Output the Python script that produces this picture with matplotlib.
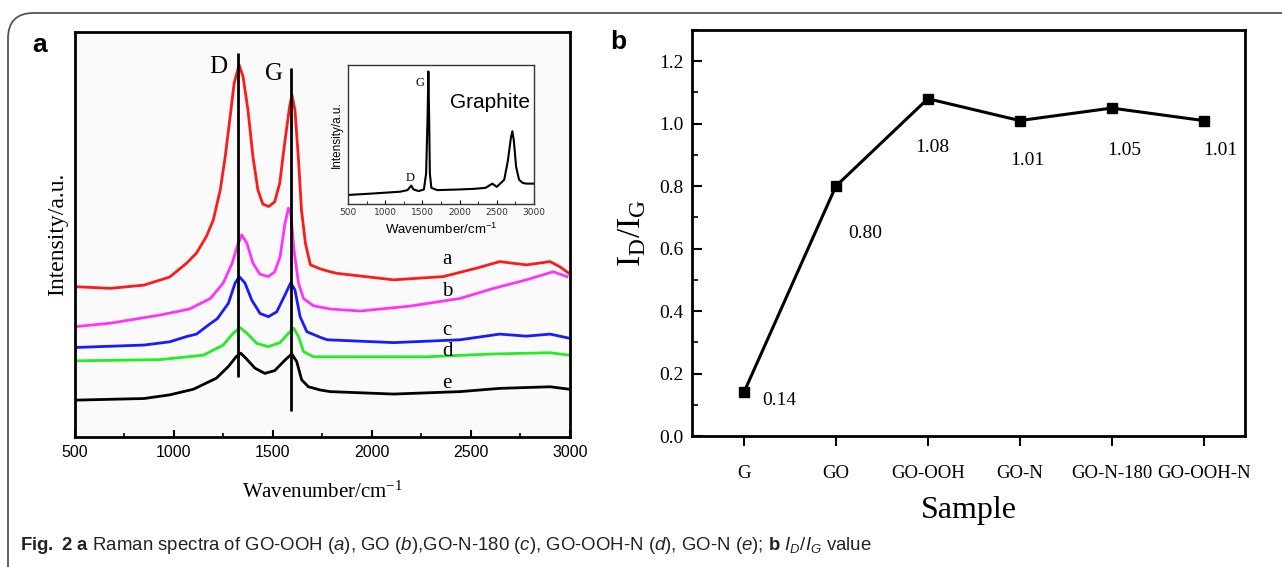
import matplotlib
matplotlib.use("Agg")
import matplotlib.pyplot as plt
import numpy as np
from matplotlib.patches import FancyBboxPatch
from matplotlib.ticker import MultipleLocator

plt.rcParams['mathtext.fontset'] = 'custom'
plt.rcParams['mathtext.rm'] = 'Liberation Serif'
plt.rcParams['mathtext.sf'] = 'Liberation Sans'
plt.rcParams['mathtext.it'] = 'Liberation Sans:italic'
plt.rcParams['mathtext.bf'] = 'Liberation Sans:bold'

# ---- panel a: Raman spectra (arbitrary units) ----
wn_a = [505, 680, 850, 980, 1065, 1115, 1165, 1200, 1235, 1260, 1285, 1305, 1330, 1350, 1375,
        1400, 1425, 1450, 1480, 1510, 1535, 1560, 1585, 1597, 1612, 1630, 1645, 1665, 1690,
        1740, 1790, 1825, 2110, 2360, 2530, 2645, 2780, 2900, 2950, 2995]
int_a = [37.1, 36.7, 37.5, 39.5, 42.9, 45.4, 49.5, 53.6, 61.0, 69.2, 79.1, 87.3, 91.9, 89.0, 80.7,
         69.2, 61.0, 57.5, 56.9, 58.1, 62.6, 72.5, 81.6, 84.4, 80.7, 68.4, 56.0, 47.8, 42.5,
         41.5, 40.8, 40.4, 38.8, 39.6, 41.7, 43.3, 42.5, 43.3, 42.0, 40.4]

wn_b = [495, 680, 930, 1080, 1185, 1250, 1295, 1320, 1343, 1370, 1400, 1435, 1478, 1510, 1537,
        1562, 1579, 1591, 1607, 1630, 1655, 1705, 1790, 1940, 2190, 2445, 2615, 2780, 2915,
        2985]
int_b = [27.2, 28.1, 30.1, 31.6, 34.2, 38.0, 42.9, 47.0, 49.9, 47.8, 42.9, 40.2, 39.6, 40.8, 44.5,
         52.8, 56.5, 55.2, 46.2, 38.0, 34.2, 32.4, 31.6, 31.1, 32.3, 34.2, 36.7, 38.8, 40.8,
         39.6]

wn_c = [505, 850, 980, 1065, 1115, 1185, 1220, 1276, 1310, 1331, 1360, 1394, 1436, 1478, 1520,
        1562, 1591, 1612, 1638, 1672, 1740, 1775, 2110, 2445, 2645, 2780, 2900, 2995]
int_c = [22.1, 22.7, 23.5, 24.8, 25.4, 28.0, 29.2, 33.0, 38.0, 39.6, 38.0, 33.8, 30.5, 29.7, 30.9,
         35.1, 38.1, 36.3, 29.7, 26.0, 24.6, 24.0, 23.3, 24.0, 25.4, 24.9, 25.4, 24.4]

wn_d = [505, 930, 1150, 1250, 1300, 1335, 1370, 1420, 1478, 1537, 1579, 1607, 1630, 1655, 1705,
        1775, 2275, 2615, 2900, 2995]
int_d = [18.8, 19.1, 20.2, 22.7, 25.6, 27.0, 25.6, 23.1, 22.3, 23.3, 25.6, 26.8, 24.8, 21.1, 19.8,
         19.8, 19.8, 20.5, 20.8, 20.2]

wn_e = [505, 850, 980, 1100, 1215, 1276, 1315, 1338, 1365, 1410, 1460, 1510, 1562, 1596, 1621,
        1646, 1680, 1740, 1790, 2110, 2445, 2645, 2900, 2995]
int_e = [9.1, 9.5, 10.4, 11.8, 14.5, 17.4, 19.8, 20.7, 19.4, 17.0, 15.7, 16.4, 19.0, 20.5, 18.6,
         14.1, 12.4, 11.6, 11.2, 10.6, 11.2, 12.0, 12.4, 11.8]

spectra = [(wn_a, int_a, '#ff1a1a', 'a'), (wn_b, int_b, '#ff33ff', 'b'),
           (wn_c, int_c, '#1a1aff', 'c'), (wn_d, int_d, '#22ee22', 'd'),
           (wn_e, int_e, '#000000', 'e')]
curve_label_y = [43.7, 35.9, 26.4, 21.1, 13.1]

band_names = ['D', 'G']
band_pos = [1326, 1592]
band_line_top = [94.7, 91.0]
band_line_bottom = [14.9, 6.5]

# graphite inset
wn_gr = [500, 800, 1000, 1200, 1300, 1350, 1380, 1450, 1520, 1550, 1570, 1580, 1590, 1600, 1620,
         1700, 2000, 2200, 2350, 2440, 2500, 2600, 2650, 2690, 2710, 2730, 2760, 2800, 2850,
         2900, 3000]
int_gr = [28, 32, 35, 38, 43, 57, 45, 40, 45, 95, 275, 410, 275, 95, 50,
          43, 45, 47, 50, 63, 53, 75, 135, 205, 225, 195, 115, 75, 65,
          63, 63]

# ---- panel b: I_D/I_G ----
samples = ['G', 'GO', 'GO-OOH', 'GO-N', 'GO-N-180', 'GO-OOH-N']
ratio = [0.14, 0.80, 1.08, 1.01, 1.05, 1.01]
ratio_labels = ['0.14', '0.80', '1.08', '1.01', '1.05', '1.01']

fig = plt.figure(figsize=(12.82, 5.67), dpi=100)

# outer frame (only top and left edge visible)
frame = FancyBboxPatch((8 / 1282, -0.2), 1.2, (567 - 13) / 567 + 0.2,
                       boxstyle="round,pad=0,rounding_size=0.02", transform=fig.transFigure,
                       fill=False, edgecolor='#555555', linewidth=1.3, mutation_aspect=2.26)
fig.patches.append(frame)

# panel a
ax1 = fig.add_axes([0.0582, 0.2293, 0.3864, 0.7143])
ax1.set_facecolor('#fafafa')
for wn, vals, col, lab in spectra:
    ax1.plot(wn, vals, color=col, lw=2, solid_joinstyle='round')
ax1.set_xlim(500, 3000)
ax1.set_ylim(0, 100)
ax1.vlines(band_pos, band_line_bottom, band_line_top, color='black', lw=2)
ax1.text(1224, 91.4, 'D', family='Liberation Serif', fontsize=18, ha='center', va='center')
ax1.text(1504, 89.7, 'G', family='Liberation Serif', fontsize=18, ha='center', va='center')
for (wn, vals, col, lab), ly in zip(spectra, curve_label_y):
    ax1.text(2380, ly, lab, family='Liberation Serif', fontsize=15, ha='center', va='center')
ax1.set_yticks([])
ax1.xaxis.set_major_locator(MultipleLocator(500))
ax1.xaxis.set_minor_locator(MultipleLocator(250))
ax1.tick_params(axis='x', which='major', direction='in', length=5, width=1.5, labelsize=11.5, pad=6)
ax1.tick_params(axis='x', which='minor', direction='in', length=3, width=1.2)
for lbl in ax1.get_xticklabels():
    lbl.set_family('Liberation Sans')
for s in ax1.spines.values():
    s.set_linewidth(2)
ax1.set_xlabel('Wavenumber/cm$^{\\mathrm{-1}}$', family='Liberation Serif', fontsize=15, labelpad=15)
ax1.set_ylabel('Intensity/a.u.', family='Liberation Serif', fontsize=17, labelpad=5)

# inset
ax_in = fig.add_axes([0.2715, 0.6402, 0.145, 0.2452])
ax_in.plot(wn_gr, int_gr, color='black', lw=1.5)
ax_in.set_xlim(500, 3000)
ax_in.set_ylim(0, 430)
ax_in.set_yticks([])
ax_in.xaxis.set_major_locator(MultipleLocator(500))
ax_in.xaxis.set_minor_locator(MultipleLocator(250))
ax_in.tick_params(axis='x', which='major', direction='in', length=3, labelsize=6.5, pad=3,
                  labelcolor='#333333')
ax_in.tick_params(axis='x', which='minor', direction='in', length=2)
for s in ax_in.spines.values():
    s.set_linewidth(1)
    s.set_color('#333333')
ax_in.text(1469, 375, 'G', family='Liberation Serif', fontsize=9, ha='center', va='center')
ax_in.text(1333, 80, 'D', family='Liberation Serif', fontsize=9, ha='center', va='center')
ax_in.text(1874, 315, 'Graphite', family='Liberation Sans', fontsize=15, ha='left', va='center')
ax_in.set_xlabel('Wavenumber/cm$^{\\mathsf{-1}}$', family='Liberation Sans', fontsize=9.5, labelpad=3)
ax_in.set_ylabel('Intensity/a.u.', family='Liberation Sans', fontsize=8.5, labelpad=4)

# panel b
ax2 = fig.add_axes([0.5398, 0.2310, 0.4313, 0.7161])
xpos = np.arange(len(samples))
ax2.plot(xpos, ratio, color='black', lw=2.2, marker='s', markersize=7)
ax2.set_xlim(-0.565, 5.45)
ax2.set_ylim(0, 1.3)
ax2.set_xticks(xpos)
ax2.set_xticklabels(samples, family='Liberation Serif', fontsize=13.5)
ax2.yaxis.set_major_locator(MultipleLocator(0.2))
ax2.yaxis.set_minor_locator(MultipleLocator(0.1))
ax2.yaxis.set_major_formatter(plt.FormatStrFormatter('%.1f'))
ax2.tick_params(axis='y', which='major', direction='in', length=7, width=1.5, labelsize=14, pad=6)
ax2.tick_params(axis='y', which='minor', direction='in', length=4, width=1.2)
ax2.tick_params(axis='x', which='major', direction='out', length=7, width=1.5, pad=14)
for lbl in ax2.get_yticklabels():
    lbl.set_family('Liberation Serif')
for s in ax2.spines.values():
    s.set_linewidth(2)
offsets = [(35, -8), (29, -47), (4, -49), (8, -40), (13, -42), (17, -30)]
for i, (v, t, off) in enumerate(zip(ratio, ratio_labels, offsets)):
    ax2.annotate(t, xy=(i, v), xytext=off, textcoords='offset pixels', ha='center', va='center',
                 family='Liberation Serif', fontsize=14)
ax2.set_xlabel('Sample', family='Liberation Serif', fontsize=23, labelpad=10)
ax2.set_ylabel('I$_{\\mathrm{D}}$/I$_{\\mathrm{G}}$', family='Liberation Serif', fontsize=24, labelpad=8)

# panel letters
fig.text(40 / 1282, 1 - 45 / 567, 'a', fontsize=19, fontweight='bold', family='Liberation Sans',
         ha='center', va='center')
fig.text(618 / 1282, 1 - 42 / 567, 'b', fontsize=19, fontweight='bold', family='Liberation Sans',
         ha='center', va='center')

# caption
caption = ('$\\mathbf{Fig.}$ $\\mathbf{2}$ $\\mathbf{a}$ Raman spectra of GO-OOH ($\\mathit{a}$), '
           'GO ($\\mathit{b}$),GO-N-180 ($\\mathit{c}$), GO-OOH-N ($\\mathit{d}$), '
           'GO-N ($\\mathit{e}$); $\\mathbf{b}$ $\\mathit{I}_{\\mathit{D}}$/$\\mathit{I}_{\\mathit{G}}$ value')
fig.text(20 / 1282, 1 - 545 / 567, caption, family='Liberation Sans', fontsize=13.4, ha='left',
         va='center', color='#222222')

fig.savefig('out.png', dpi=100)
